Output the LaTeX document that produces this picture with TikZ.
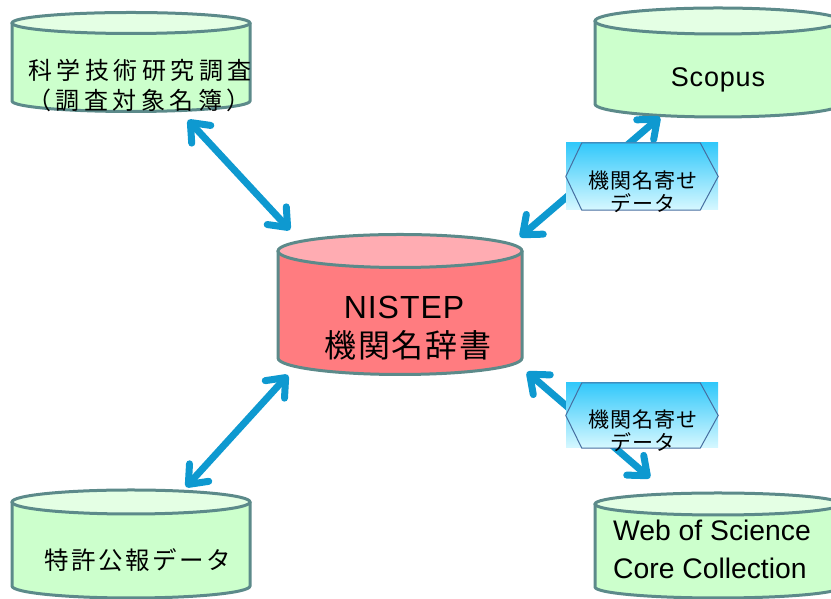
\documentclass[tikz,border=0pt]{standalone}
\usepackage{fontspec}
\setmainfont{Liberation Sans}
\newfontfamily\jp{Noto Sans CJK JP}
\newfontfamily\jpwide[LetterSpace=19]{Noto Sans CJK JP}
\newfontfamily\jpmid[LetterSpace=10]{Noto Sans CJK JP}
\newfontfamily\jpsmall[LetterSpace=5]{Noto Sans CJK JP}
\newfontfamily\latsp[LetterSpace=3]{Liberation Sans}
\usetikzlibrary{arrows.meta,calc}
\definecolor{cylborder}{RGB}{92,138,138}
\definecolor{greenbody}{RGB}{204,255,204}
\definecolor{greentop}{RGB}{228,255,228}
\definecolor{redbody}{RGB}{255,124,128}
\definecolor{redtop}{RGB}{255,172,178}
\definecolor{arrowblue}{RGB}{14,153,208}
\definecolor{labtop}{RGB}{50,200,250}
\definecolor{labbot}{RGB}{215,248,255}
\definecolor{hexblue}{RGB}{70,110,160}
\newcommand\dbcyl[7]{%
  \fill[#6] ({#1-#2},#3) -- ({#1-#2},#4) arc[start angle=180,end angle=360,x radius=#2pt,y radius=#5pt] -- ({#1+#2},#3) -- cycle;
  \draw[cylline] ({#1-#2},#3) -- ({#1-#2},#4) arc[start angle=180,end angle=360,x radius=#2pt,y radius=#5pt] -- ({#1+#2},#3);
  \filldraw[cylline,fill=#7] (#1,#3) ellipse[x radius=#2pt,y radius=#5pt];
}
\tikzset{
  cylline/.style={draw=cylborder, line width=3pt},
  dblarrow/.style={line width=7pt, draw=arrowblue, line cap=round,
    arrows={Straight Barb[round,length=16pt,width=26pt]-Straight Barb[round,length=16pt,width=26pt]}},
  labelbg/.style={rectangle, inner sep=0pt, minimum width=152pt, minimum height=67pt,
    top color=labtop, bottom color=labbot},
  hexline/.style={draw=hexblue, line width=1pt},
  txt/.style={inner sep=0pt, text=black},
}
\begin{document}
\begin{tikzpicture}[x=1pt,y=1pt]
\useasboundingbox (0,0) rectangle (831,599);
\clip (0,0) rectangle (831,599);
% cylinders
\dbcyl{131}{119}{576}{498}{10.5}{greenbody}{greentop}
\dbcyl{718}{123}{578}{495}{13}{greenbody}{greentop}
\dbcyl{718}{123}{95}{12}{11}{greenbody}{greentop}
\dbcyl{131}{119}{97}{13}{12}{greenbody}{greentop}
\dbcyl{400}{122}{348}{241}{16.5}{redbody}{redtop}
% texts
\node[txt, font=\jpwide\fontsize{24}{28}\selectfont] (tl1) at (140,529) {科学技術研究調査};
\node[txt, font=\jpwide\fontsize{24}{28}\selectfont] (tl2) at (139,499) {（調査対象名簿）};
\node[txt, font=\latsp\fontsize{27}{32}\selectfont] (scopus) at (718,519) {Scopus};
\node[txt, anchor=west, font=\fontsize{28.3}{32}\selectfont] (wos1) at (613,69) {Web of Science};
\node[txt, anchor=west, font=\fontsize{28.3}{32}\selectfont] (wos2) at (613,31) {Core Collection};
\node[txt, font=\jpmid\fontsize{24.5}{28}\selectfont] (bl) at (138,39) {特許公報データ};
\node[txt, font=\latsp\fontsize{32}{36}\selectfont] (nis1) at (404,292) {NISTEP};
\node[txt, font=\jpsmall\fontsize{32}{36}\selectfont] (nis2) at (408,254) {機関名辞書};
% arrows
\coordinate (a1s) at (188,479);
\coordinate (a1e) at (290,369);
\coordinate (a2s) at (288,224);
\coordinate (a2e) at (186,112);
\coordinate (a3s) at (660,482);
\coordinate (a3e) at (520,362);
\coordinate (a4s) at (527,227);
\coordinate (a4e) at (650,121);
\draw[dblarrow] (a1s) -- (a1e);
\draw[dblarrow] (a2s) -- (a2e);
\draw[dblarrow] (a3s) -- (a3e);
\draw[dblarrow] (a4s) -- (a4e);
% labels
\node[labelbg] (lab1) at (642,422.5) {};
\draw[hexline] (lab1.west) -- ($(lab1.north west)+(16,0)$) -- ($(lab1.north east)+(-18,0)$) -- (lab1.east) -- ($(lab1.south east)+(-18,0)$) -- ($(lab1.south west)+(16,0)$) -- cycle;
\node[txt, align=center, font=\jpsmall\fontsize{21}{23}\selectfont] (lab1t) at (643,407.5) {機関名寄せ\\データ};
\node[labelbg, minimum height=65pt] (lab2) at (642,183.5) {};
\draw[hexline] (lab2.west) -- ($(lab2.north west)+(16,0)$) -- ($(lab2.north east)+(-18,0)$) -- (lab2.east) -- ($(lab2.south east)+(-18,0)$) -- ($(lab2.south west)+(16,0)$) -- cycle;
\node[txt, align=center, font=\jpsmall\fontsize{21}{23}\selectfont] (lab2t) at (643,168) {機関名寄せ\\データ};
\end{tikzpicture}
\end{document}
